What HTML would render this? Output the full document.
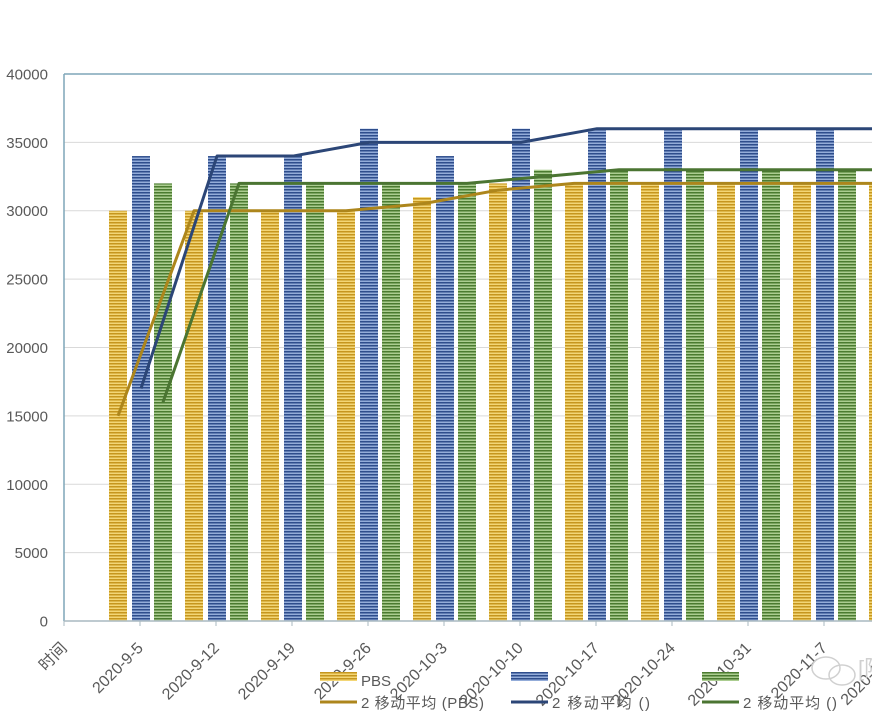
<!DOCTYPE html>
<html>
<head>
<meta charset="utf-8">
<style>
  html,body{margin:0;padding:0;background:#fff;}
  svg{display:block;}
  text{font-family:"Liberation Sans","Noto Sans CJK SC",sans-serif;fill:#595959;}
</style>
</head>
<body>
<svg width="872" height="714" viewBox="0 0 872 714" xmlns="http://www.w3.org/2000/svg">
  <defs>
    <pattern id="py" width="4" height="3" patternUnits="userSpaceOnUse">
      <rect width="4" height="3" fill="#f3d676"/>
      <rect width="4" height="1.5" fill="#c6961e"/>
    </pattern>
    <pattern id="pb" width="4" height="3" patternUnits="userSpaceOnUse">
      <rect width="4" height="3" fill="#93acd9"/>
      <rect width="4" height="1.5" fill="#2e4d8c"/>
    </pattern>
    <pattern id="pg" width="4" height="3" patternUnits="userSpaceOnUse">
      <rect width="4" height="3" fill="#abcd90"/>
      <rect width="4" height="1.5" fill="#4b7b30"/>
    </pattern>
  </defs>

  <!-- gridlines -->
  <g stroke="#d9d9d9" stroke-width="1">
    <line x1="64" y1="142.4" x2="872" y2="142.4"/>
    <line x1="64" y1="210.75" x2="872" y2="210.75"/>
    <line x1="64" y1="279.1" x2="872" y2="279.1"/>
    <line x1="64" y1="347.5" x2="872" y2="347.5"/>
    <line x1="64" y1="415.9" x2="872" y2="415.9"/>
    <line x1="64" y1="484.3" x2="872" y2="484.3"/>
    <line x1="64" y1="552.6" x2="872" y2="552.6"/>
  </g>

  <!-- plot border / axes -->
  <line x1="64" y1="74" x2="872" y2="74" stroke="#7fa6b8" stroke-width="1.5"/>
  <line x1="64" y1="74" x2="64" y2="621" stroke="#7fa6b8" stroke-width="1.5"/>

  <!-- y labels -->
  <g font-size="15" text-anchor="end">
    <text x="48" y="79.5">40000</text>
    <text x="48" y="147.9">35000</text>
    <text x="48" y="216.2">30000</text>
    <text x="48" y="284.6">25000</text>
    <text x="48" y="353">20000</text>
    <text x="48" y="421.4">15000</text>
    <text x="48" y="489.8">10000</text>
    <text x="48" y="558.1">5000</text>
    <text x="48" y="626.5">0</text>
  </g>

  <!-- bars -->
  <g fill="url(#py)">
    <rect x="109" y="210.75" width="18" height="410.25"/>
    <rect x="185" y="210.75" width="18" height="410.25"/>
    <rect x="261" y="210.75" width="18" height="410.25"/>
    <rect x="337" y="210.75" width="18" height="410.25"/>
    <rect x="413" y="197.1" width="18" height="423.9"/>
    <rect x="489" y="183.4" width="18" height="437.6"/>
    <rect x="565" y="183.4" width="18" height="437.6"/>
    <rect x="641" y="183.4" width="18" height="437.6"/>
    <rect x="717" y="183.4" width="18" height="437.6"/>
    <rect x="793" y="183.4" width="18" height="437.6"/>
    <rect x="869" y="183.4" width="18" height="437.6"/>
  </g>
  <g fill="url(#pb)">
    <rect x="132" y="156.05" width="18" height="464.95"/>
    <rect x="208" y="156.05" width="18" height="464.95"/>
    <rect x="284" y="156.05" width="18" height="464.95"/>
    <rect x="360" y="128.7" width="18" height="492.3"/>
    <rect x="436" y="156.05" width="18" height="464.95"/>
    <rect x="512" y="128.7" width="18" height="492.3"/>
    <rect x="588" y="128.7" width="18" height="492.3"/>
    <rect x="664" y="128.7" width="18" height="492.3"/>
    <rect x="740" y="128.7" width="18" height="492.3"/>
    <rect x="816" y="128.7" width="18" height="492.3"/>
  </g>
  <g fill="url(#pg)">
    <rect x="154" y="183.4" width="18" height="437.6"/>
    <rect x="230" y="183.4" width="18" height="437.6"/>
    <rect x="306" y="183.4" width="18" height="437.6"/>
    <rect x="382" y="183.4" width="18" height="437.6"/>
    <rect x="458" y="183.4" width="18" height="437.6"/>
    <rect x="534" y="169.7" width="18" height="451.3"/>
    <rect x="610" y="169.7" width="18" height="451.3"/>
    <rect x="686" y="169.7" width="18" height="451.3"/>
    <rect x="762" y="169.7" width="18" height="451.3"/>
    <rect x="838" y="169.7" width="18" height="451.3"/>
  </g>

  <!-- bottom axis -->
  <line x1="64" y1="621" x2="872" y2="621" stroke="#a9b8c0" stroke-width="1.5"/>
  <g stroke="#a9b8c0" stroke-width="1">
    <line x1="64" y1="621" x2="64" y2="626"/>
    <line x1="140" y1="621" x2="140" y2="626"/>
    <line x1="216" y1="621" x2="216" y2="626"/>
    <line x1="292" y1="621" x2="292" y2="626"/>
    <line x1="368" y1="621" x2="368" y2="626"/>
    <line x1="444" y1="621" x2="444" y2="626"/>
    <line x1="520" y1="621" x2="520" y2="626"/>
    <line x1="596" y1="621" x2="596" y2="626"/>
    <line x1="672" y1="621" x2="672" y2="626"/>
    <line x1="748" y1="621" x2="748" y2="626"/>
    <line x1="824" y1="621" x2="824" y2="626"/>
  </g>

  <!-- moving average lines -->
  <g fill="none" stroke-width="3" stroke-linejoin="round">
    <polyline stroke="#ad861c" points="118,415.9 194,210.75 270,210.75 346,210.75 422,203.9 498,190.2 574,183.4 650,183.4 726,183.4 802,183.4 878,183.4"/>
    <polyline stroke="#2c4677" points="141,388.5 217,156.05 293,156.05 369,142.4 445,142.4 521,142.4 597,128.7 673,128.7 749,128.7 825,128.7 901,128.7"/>
    <polyline stroke="#4b7532" points="163,402.2 239,183.4 315,183.4 391,183.4 467,183.4 543,176.6 619,169.7 695,169.7 771,169.7 847,169.7 923,169.7"/>
  </g>

  <!-- x labels -->
  <g font-size="16" text-anchor="end">
    <text transform="translate(68,649) rotate(-45)">时间</text>
    <text transform="translate(144,649) rotate(-45)">2020-9-5</text>
    <text transform="translate(220,649) rotate(-45)">2020-9-12</text>
    <text transform="translate(296,649) rotate(-45)">2020-9-19</text>
    <text transform="translate(372,649) rotate(-45)">2020-9-26</text>
    <text transform="translate(448,649) rotate(-45)">2020-10-3</text>
    <text transform="translate(524,649) rotate(-45)">2020-10-10</text>
    <text transform="translate(600,649) rotate(-45)">2020-10-17</text>
    <text transform="translate(676,649) rotate(-45)">2020-10-24</text>
    <text transform="translate(752,649) rotate(-45)">2020-10-31</text>
    <text transform="translate(828,649) rotate(-45)">2020-11-7</text>
    <text transform="translate(904,649) rotate(-45)">2020-11-14</text>
  </g>

  <!-- watermark -->
  <g fill="none" stroke="#d0d0d0" stroke-width="1.5">
    <ellipse cx="826" cy="668" rx="14" ry="11"/>
    <ellipse cx="842" cy="675" rx="13" ry="10"/>
  </g>
  <text x="858" y="676" font-size="22" style="fill:#d0d0d0">[陷</text>

  <!-- legend -->
  <rect x="320" y="672" width="37" height="9" fill="url(#py)"/>
  <line x1="320" y1="702" x2="357" y2="702" stroke="#ad861c" stroke-width="3"/>
  <text x="361" y="686" font-size="15">PBS</text>
  <text x="361" y="708" font-size="15" textLength="123">2 移动平均 (PBS)</text>

  <rect x="511" y="672" width="37" height="9" fill="url(#pb)"/>
  <line x1="511" y1="702" x2="548" y2="702" stroke="#2c4677" stroke-width="3"/>
  <text x="552" y="708" font-size="15" textLength="98">2 移动平均 ()</text>

  <rect x="702" y="672" width="37" height="9" fill="url(#pg)"/>
  <line x1="702" y1="702" x2="739" y2="702" stroke="#4b7532" stroke-width="3"/>
  <text x="743" y="708" font-size="15" textLength="94">2 移动平均 ()</text>
</svg>
</body>
</html>
